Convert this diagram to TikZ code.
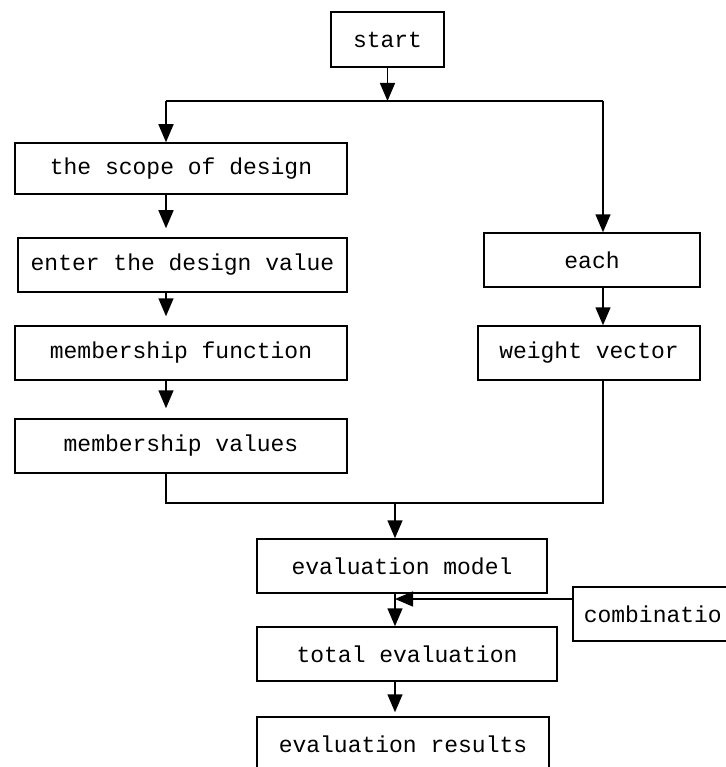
\documentclass[tikz,border=0pt]{standalone}
\usepackage{fontspec}
\setmonofont{Liberation Mono}
\usetikzlibrary{arrows.meta}
\tikzset{
BOX/.style ={draw=black,line width=1.5pt,inner sep=0pt,minimum height=#1,font=\ttfamily\fontsize{23}{27}\selectfont},
BOX/.default = 54pt,
LINE/.style ={draw=black,line width=1.5pt,line join=miter},
FLOW/.style ={LINE,-{Triangle[length=18pt,width=15pt]}},
}
\begin{document}
\begin{tikzpicture}[x=1pt,y=1pt]
	\useasboundingbox (0,0) rectangle (725,-767);
	\node[BOX=55pt,minimum width=113pt] (start) at (387.5,-39.5) {start};
	\node[BOX=51pt,minimum width=332pt] (scope) at (181,-168.5) {the scope of design};
	\node[BOX,minimum width=329pt] (enter) at (182.5,-265) {enter the design value};
	\node[BOX,minimum width=332pt] (mfun) at (181,-353) {membership function};
	\node[BOX,minimum width=332pt] (mval) at (181,-446) {membership values};
	\node[BOX,minimum width=216pt] (each) at (592,-260) {each};
	\node[BOX,minimum width=222pt] (weight) at (589,-353) {weight vector};
	\node[BOX,minimum width=290pt] (emodel) at (402,-566) {evaluation model};
	\node[BOX,anchor=west,text width=210pt,align=left,inner xsep=11pt] (comb) at (572,-614) {combinatio};
	\node[BOX,minimum width=300pt] (total) at (407,-654) {total evaluation};
	\node[BOX,minimum width=292pt] (results) at (403,-744) {evaluation results};
	\coordinate (lft) at (166,-101);
	\coordinate (rgt) at (603,-101);
	\coordinate (mrg) at (395,-503);
	\coordinate (cj) at ([yshift=15pt]comb.west);
	\path[FLOW] (start.south) -- (start.south |- lft);
	\path[LINE] (lft) -- (rgt);
	\path[FLOW] (lft) -- (lft |- scope.north);
	\path[FLOW,shorten >=9pt] (scope.south -| lft) -- (enter.north -| lft);
	\path[FLOW,shorten >=9pt] (enter.south -| lft) -- (mfun.north -| lft);
	\path[FLOW,shorten >=10pt] (mfun.south -| lft) -- (mval.north -| lft);
	\path[FLOW] (rgt) -- (rgt |- each.north);
	\path[FLOW] (each.south -| rgt) -- (weight.north -| rgt);
	\path[LINE] (mval.south -| lft) |- (mrg) -| (weight.south -| rgt);
	\path[FLOW] (mrg) -- (mrg |- emodel.north);
	\path[FLOW] (emodel.south -| mrg) -- (total.north -| mrg);
	\path[FLOW] (cj) -- (cj -| mrg);
	\path[FLOW,shorten >=4pt] (total.south -| mrg) -- (results.north -| mrg);
\end{tikzpicture}
\end{document}
